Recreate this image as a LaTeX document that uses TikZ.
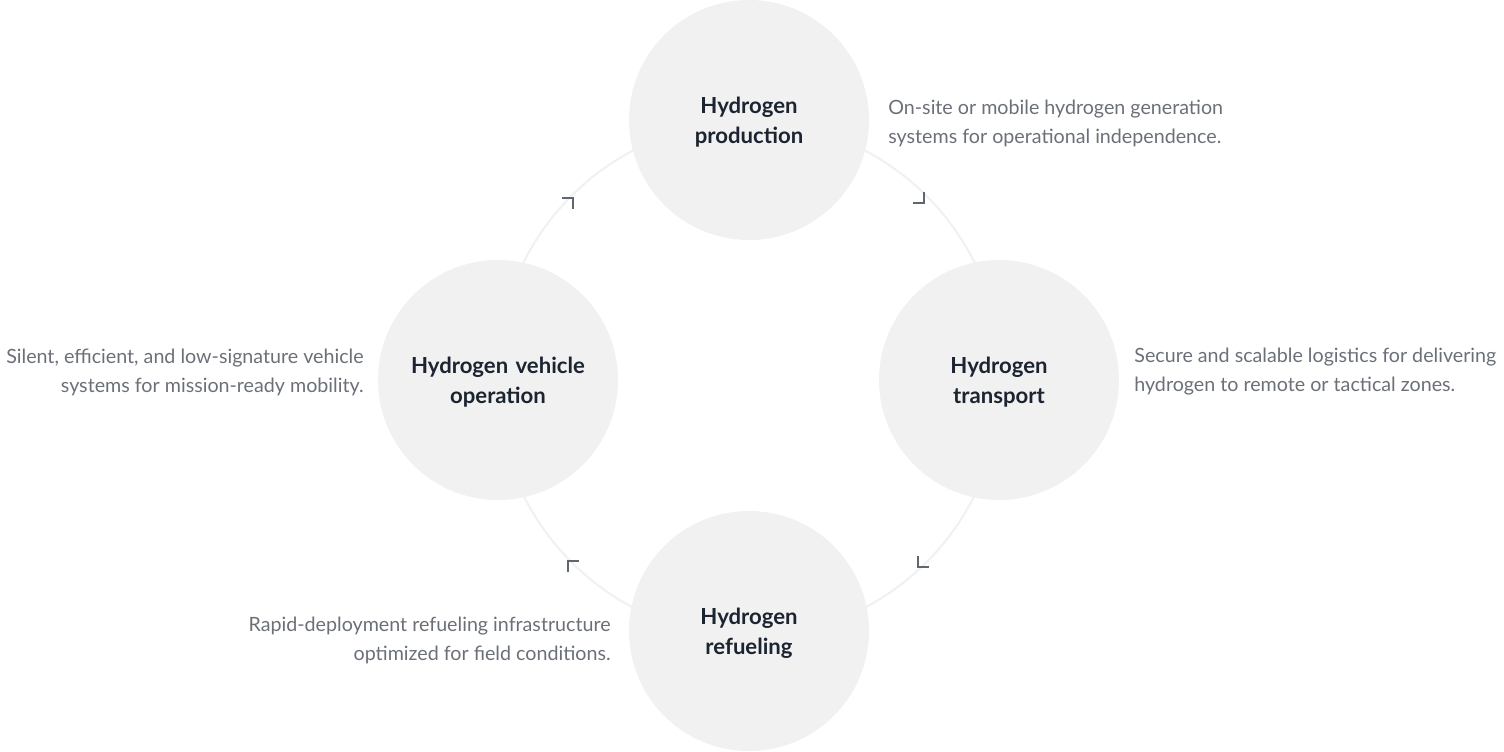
\documentclass[tikz,border=0pt]{standalone}
\usepackage{fontspec}
\setmainfont{Lato}
\usetikzlibrary{positioning}
\definecolor{stagefill}{HTML}{F1F1F1}
\definecolor{ringgray}{HTML}{F0F1F1}
\definecolor{titleink}{HTML}{1B2430}
\definecolor{noteink}{HTML}{6B7078}
\definecolor{markgray}{HTML}{5F6670}
\begin{document}
\begin{tikzpicture}[x=0.02cm,y=-0.02cm]
    \tikzset{stage/.style={circle,fill=stagefill,minimum size=240*0.02cm,inner sep=0pt,
                           text width=4.2cm,align=center,font=\fontsize{12.6}{17}\selectfont\bfseries,text=titleink}}
    \tikzset{note/.style={font=\fontsize{11.2}{16.5}\selectfont,text=noteink,inner sep=0pt}}
    \tikzset{flowmark/.style={draw=markgray,line width=1.4pt}}
    \useasboundingbox (0,0) rectangle (1504,751);

    \draw[ringgray,line width=1.2pt] (749,379) ellipse (253 and 257);

    \node[stage] (prod) at (749,120) {\vphantom{g}\\[-12pt]Hydrogen\\production};
    \node[stage] (trans) at (999,380) {\vphantom{g}\\[-12pt]Hydrogen\\transport};
    \node[stage] (refuel) at (749,631) {\vphantom{g}\\[-12pt]Hydrogen\\refueling};
    \node[stage] (veh) at (498,380) {\vphantom{g}\\[-12pt]Hydrogen vehicle\\operation};

    \node[note,anchor=west,align=left] (prodnote) at (888,123) {On-site or mobile hydrogen generation\\systems for operational independence.};
    \node[note,anchor=west,align=left] (transnote) at (1134,372) {Secure and scalable logistics for delivering\\hydrogen to remote or tactical zones.};
    \node[note,anchor=east,align=right] (refuelnote) at (611,640) {Rapid-deployment refueling infrastructure\\optimized for field conditions.};
    \node[note,anchor=east,align=right] (vehnote) at (364,372) {Silent, efficient, and low-signature vehicle\\systems for mission-ready mobility.};

    % direction marks on the ring
    \draw[flowmark] (913,203) -- (924,203) -- (924,192);
    \draw[flowmark] (918,556) -- (918,567) -- (929,567);
    \draw[flowmark] (568,572) -- (568,561) -- (579,561);
    \draw[flowmark] (562,198) -- (573,198) -- (573,209);
\end{tikzpicture}
\end{document}
